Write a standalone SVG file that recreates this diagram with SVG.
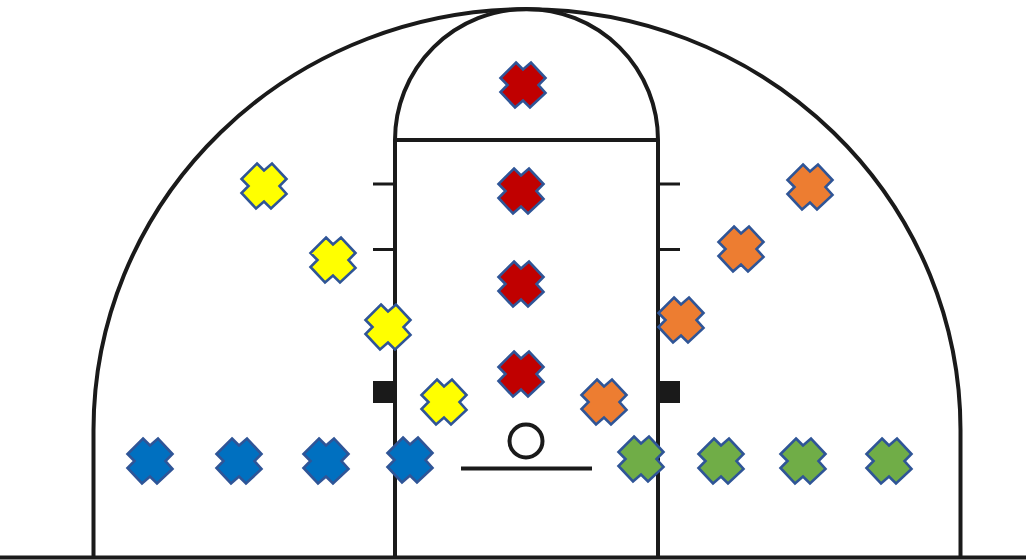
<svg xmlns="http://www.w3.org/2000/svg" width="1026" height="560" viewBox="0 0 1026 560">
<style>
.l{fill:none;stroke:#1a1a1a;stroke-width:4}
.t{fill:none;stroke:#1a1a1a;stroke-width:3}
.k{fill:#1a1a1a}
.x{stroke:#2f5597;stroke-width:2.6;stroke-linejoin:miter}
.r{fill:#c00000}.y{fill:#ffff00}.o{fill:#ed7d31}.b{fill:#0070c0}.g{fill:#70ad47}
</style>
<defs>
<polygon id="c" points="-7,-22.500 0,-15.500 8,-22.500 22.500,-7 15.500,0 22.500,8 7,22.500 0,15.500 -8,22.500 -22.500,7 -15.500,0 -22.500,-7"/>
</defs>
<rect width="1026" height="560" fill="#fff"/>
<g id="court">
<path class="l" d="M93.500 557V430A433.500 421 0 0 1 960.500 430V557"/>
<path class="l" d="M0 557.500H1026"/>
<path class="l" d="M395 557V140A131.500 131 0 0 1 658 140V557"/>
<path class="l" d="M395 140H658"/>
<path class="t" d="M373 184H395M373 249.500H395M658 184H680M658 249.500H680"/>
<rect class="k" x="373" y="381" width="22" height="22"/>
<rect class="k" x="658" y="381" width="22" height="22"/>
<circle class="l" cx="526" cy="441" r="16.500"/>
<path class="l" d="M461 468.500H592"/>
</g>
<g id="red">
<use href="#c" class="x r" x="523" y="85"/>
<use href="#c" class="x r" x="521" y="191"/>
<use href="#c" class="x r" x="521" y="284"/>
<use href="#c" class="x r" x="521" y="374"/>
</g>
<g id="yellow">
<use href="#c" class="x y" x="264" y="186"/>
<use href="#c" class="x y" x="333" y="260"/>
<use href="#c" class="x y" x="388" y="327"/>
<use href="#c" class="x y" x="444" y="402"/>
</g>
<g id="orange">
<use href="#c" class="x o" x="810" y="187"/>
<use href="#c" class="x o" x="741" y="249"/>
<use href="#c" class="x o" x="681" y="320"/>
<use href="#c" class="x o" x="604" y="402"/>
</g>
<g id="blue">
<use href="#c" class="x b" x="150" y="461"/>
<use href="#c" class="x b" x="239" y="461"/>
<use href="#c" class="x b" x="326" y="461"/>
<use href="#c" class="x b" x="410" y="460"/>
</g>
<g id="green">
<use href="#c" class="x g" x="641" y="459"/>
<use href="#c" class="x g" x="721" y="461"/>
<use href="#c" class="x g" x="803" y="461"/>
<use href="#c" class="x g" x="889" y="461"/>
</g>
</svg>
